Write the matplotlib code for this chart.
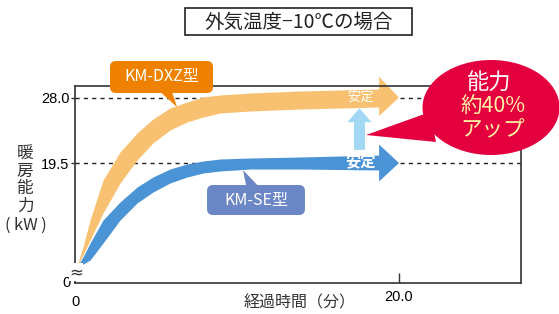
import numpy as np
import matplotlib.pyplot as plt
from matplotlib.patches import Ellipse, FancyBboxPatch, Polygon

plt.rcParams['font.family'] = ['Noto Sans CJK JP', 'DejaVu Sans']

# 経過時間(分)
time_min = [0.1, 0.49, 0.93, 1.73, 2.78, 3.83, 4.81, 5.86, 6.91, 7.90, 8.95, 10.80, 13.89, 18.77]
# KM-DXZ型 band (kW, broken axis)
dxz_upper = [6.0, 8.59, 12.10, 17.29, 20.93, 23.40, 25.21, 26.64, 27.42, 28.07, 28.33, 28.59, 28.85, 29.11]
dxz_lower = [6.0, 7.55, 9.50, 13.01, 16.90, 19.89, 22.10, 23.79, 24.82, 25.47, 25.99, 26.25, 26.51, 26.77]
# KM-SE型 band
se_upper = [5.9, 7.29, 9.11, 12.10, 14.44, 16.38, 17.68, 18.72, 19.37, 19.76, 20.02, 20.15, 20.28, 20.54]
se_lower = [5.9, 6.38, 6.90, 9.11, 12.10, 14.31, 15.73, 16.90, 17.68, 18.20, 18.46, 18.72, 18.72, 18.59]

stable_time = 20.0
dxz_stable = 28.0
se_stable = 19.5
ytick_vals = [19.5, 28.0]
ytick_labels = ["19.5", "28.0"]
xtick_vals = [20.0]
xtick_labels = ["20.0"]

orange = "#f8c171"
blue = "#4a93d5"

fig = plt.figure(figsize=(5.59, 3.14), dpi=100)
ax = fig.add_axes([75 / 559, 31 / 314, 446 / 559, 197 / 314])
ax.set_xlim(0, 27.53)
ax.set_ylim(3.92, 29.5)
inch = fig.dpi_scale_trans

for s in ax.spines.values():
    s.set_color("#333333")
    s.set_linewidth(1.2)

ax.set_yticks(ytick_vals)
ax.set_yticklabels(ytick_labels, family="Liberation Sans", fontsize=10.5)
ax.tick_params(axis="y", length=3, width=1, color="#333333", pad=1)
ax.set_xticks(xtick_vals)
ax.set_xticklabels(xtick_labels, family="Liberation Sans", fontsize=10.5)
ax.tick_params(axis="x", direction="in", length=7, width=1, color="#333333", pad=5)
ax.text(-0.25, 3.92, "0", ha="right", va="center", family="Liberation Sans", fontsize=10.5)
ax.text(0, 2.3, "0", ha="center", va="top", family="Liberation Sans", fontsize=10.5, clip_on=False)
ax.text(0.05, 5.3, "≈", ha="center", va="center", family="DejaVu Sans", fontsize=12, color="#333333",
        bbox=dict(facecolor="white", edgecolor="none", pad=0), zorder=5, clip_on=False)

# dashed reference lines
for v in ytick_vals:
    ax.axhline(v, color="#222222", lw=1, ls=(0, (3, 3)), zorder=1)

# bands with arrow heads
ax.fill_between(time_min, dxz_lower, dxz_upper, color=orange, lw=0, zorder=2)
ax.fill_between(time_min, se_lower, se_upper, color=blue, lw=0, zorder=2)
head_half = 2.4
xe = time_min[-1]
ax.add_patch(Polygon([(xe, dxz_stable + head_half + 0.3), (stable_time, dxz_stable), (xe, dxz_stable - head_half)],
                     closed=True, color=orange, lw=0, zorder=2, clip_on=False))
ax.add_patch(Polygon([(xe, se_stable + head_half), (stable_time, se_stable), (xe, se_stable - head_half)],
                     closed=True, color=blue, lw=0, zorder=2))
ax.text(17.6, 28.0, "安定", color="white", fontsize=9.5, ha="center", va="center", zorder=3)
ax.text(17.6, 19.75, "安定", color="white", fontsize=11, fontweight="bold", ha="center", va="center", zorder=3)

# light blue up arrow
ux, y0, y1, yh = 17.56, 21.2, 26.6, 24.8
ax.add_patch(Polygon([(ux - 0.34, y0), (ux + 0.34, y0), (ux + 0.34, yh), (ux + 0.75, yh), (ux, y1),
                      (ux - 0.75, yh), (ux - 0.34, yh)], closed=True, color="#a3d8f4", lw=0, zorder=3))

# red callout
ax.add_patch(Polygon([(3.66, 1.79), (4.30, 2.02), (4.36, 1.72)], closed=True, color="#e4003f", lw=0,
                     transform=inch, zorder=6, clip_on=False))
ax.add_patch(Ellipse((4.91, 2.065), 1.37, 0.95, color="#e4003f", lw=0, transform=inch, zorder=6, clip_on=False))
ax.text(4.88, 3.14 - 0.83, "能力", color="white", fontsize=16, ha="center", va="center", transform=inch, zorder=7)
ax.text(4.93, 3.14 - 1.07, "約40%", color="#fff2a6", fontsize=15.5, ha="center", va="center", transform=inch, zorder=7)
ax.text(4.93, 3.14 - 1.30, "アップ", color="#fff2a6", fontsize=15.5, ha="center", va="center", transform=inch, zorder=7)

# model labels
ax.add_patch(Polygon([(1.57, 2.25), (1.71, 2.25), (1.77, 2.07)], closed=True, color="#ee8200", lw=0,
                     transform=inch, zorder=6, clip_on=False))
ax.add_patch(FancyBboxPatch((1.14, 2.25), 0.95, 0.24, boxstyle="round,pad=0.04,rounding_size=0.06",
                            color="#ee8200", lw=0, transform=inch, zorder=6, clip_on=False))
ax.text(1.615, 3.14 - 0.77, "KM-DXZ型", color="white", fontsize=11.5, ha="center", va="center",
        transform=inch, zorder=7)
ax.add_patch(Polygon([(2.47, 1.24), (2.62, 1.24), (2.43, 1.44)], closed=True, color="#6c87c6", lw=0,
                     transform=inch, zorder=6))
ax.add_patch(FancyBboxPatch((2.11, 1.03), 0.90, 0.22, boxstyle="round,pad=0.04,rounding_size=0.06",
                            color="#6c87c6", lw=0, transform=inch, zorder=6))
ax.text(2.56, 3.14 - 2.00, "KM-SE型", color="white", fontsize=11.5, ha="center", va="center",
        transform=inch, zorder=7)

# title box
ax.add_patch(FancyBboxPatch((1.85, 2.79), 2.27, 0.27, boxstyle="square,pad=0", facecolor="white",
                            edgecolor="#222222", lw=1.2, transform=inch, zorder=6, clip_on=False))
ax.text(2.985, 3.14 - 0.22, "外気温度−10℃の場合", fontsize=14, ha="center", va="center",
        color="#222222", transform=inch, zorder=7)

# axis labels
fig.text(0.25 / 5.59, (3.14 - 1.80) / 3.14, "暖\n房\n能\n力", fontsize=12, ha="center", va="center",
         linespacing=1.05, color="#333333")
fig.text(0.26 / 5.59, (3.14 - 2.25) / 3.14, "(\u2009kW\u2009)", fontsize=12, ha="center", va="center",
         color="#333333")
fig.text(3.00 / 5.59, 0.11 / 3.14, "経過時間（分）", fontsize=11.5, ha="center", va="center", color="#333333")

fig.savefig("out.png", dpi=100)
